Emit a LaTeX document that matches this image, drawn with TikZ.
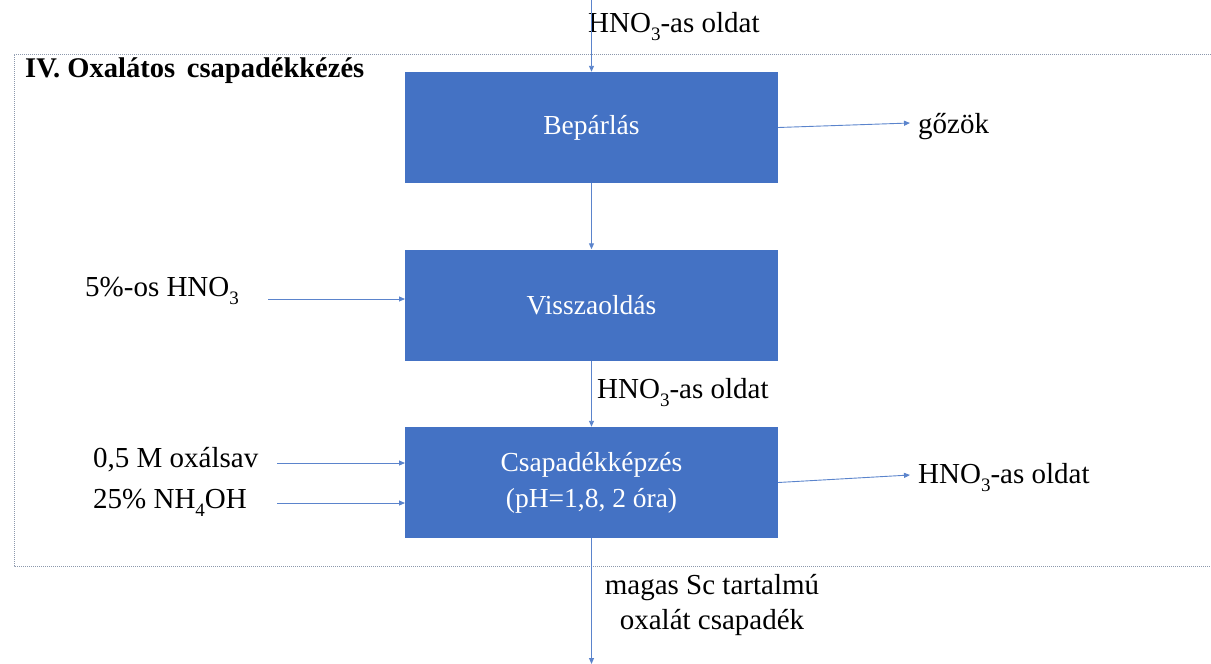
\documentclass[tikz,border=0pt]{standalone}
\usepackage{fontspec}
\setmainfont{Liberation Serif}
\usetikzlibrary{arrows.meta}
\definecolor{boxblue}{HTML}{4472C4}
\definecolor{lineblue}{HTML}{5B84CC}
\definecolor{framegray}{HTML}{8C98AC}
\newcommand{\lowsub}[1]{\raisebox{-0.3em}{\fontsize{19}{19}\selectfont #1}}
\tikzset{
  procbox/.style={fill=boxblue, draw=none, minimum width=373pt, minimum height=111pt, text=white, align=center, font=\fontsize{27.5}{36}\selectfont, inner sep=0pt},
  flow/.style={draw=lineblue, line width=0.9pt, -{Triangle[length=6pt,width=5pt]}},
  lbl/.style={font=\fontsize{29}{34}\selectfont, inner sep=0pt, anchor=base west},
  frame/.style={draw=framegray, line width=0.9pt, dash pattern=on 1pt off 1pt}
}
\begin{document}
\begin{tikzpicture}[x=1pt,y=-1pt]
\useasboundingbox (0,0) rectangle (1211,664);
% frame
\draw[frame] (1211,54) -- (14,54) -- (14,566) -- (1211,566);
\node[font=\fontsize{28.5}{34}\selectfont\bfseries, inner sep=0pt, anchor=base west] (title) at (25,77) {IV. Oxalátos\, csapadékkézés};
% boxes
\node[procbox] (b1) at (591.5,127.5) {Bepárlás};
\node[procbox] (b2) at (591.5,305) {Visszaoldás};
\node[procbox] (b3) at (591.5,482.5) {Csapadékképzés\\(pH=1,8, 2 óra)};
% labels
\node[lbl] (ltop) at (588,32) {HNO\lowsub{3}-as oldat};
\node[lbl] (lmid) at (597,398) {HNO\lowsub{3}-as oldat};
\node[lbl] (lgoz) at (918,133) {gőzök};
\node[lbl] (lout) at (918,483) {HNO\lowsub{3}-as oldat};
\node[lbl] (lhno) at (85,296) {5\%-os HNO\lowsub{3}};
\node[lbl] (lox) at (93,467) {0,5 M oxálsav};
\node[lbl] (lnh) at (93,508) {25\% NH\lowsub{4}OH};
\node[font=\fontsize{29}{35}\selectfont, inner sep=0pt, align=center, anchor=north] (lbot) at (712,574) {magas Sc tartalmú\\oxalát csapadék};
% coordinates
\coordinate (intop) at (591.5,0);
\coordinate (gz) at (910,123);
\coordinate (outr) at (910,475);
\coordinate (hnoS) at (268,299);
\coordinate (hnoE) at (405,299);
\coordinate (oxS) at (277,463);
\coordinate (oxE) at (405,463);
\coordinate (nhS) at (277,503);
\coordinate (nhE) at (405,503);
\coordinate (botE) at (591.5,664);
% connectors
\draw[flow] (intop) -- (b1.north);
\draw[flow] (b1.south) -- (b2.north);
\draw[flow] (b2.south) -- (b3.north);
\draw[flow] (b3.south) -- (botE);
\draw[flow] (b1.east) -- (gz);
\draw[flow] (b3.east) -- (outr);
\draw[flow] (hnoS) -- (hnoE);
\draw[flow] (oxS) -- (oxE);
\draw[flow] (nhS) -- (nhE);
\end{tikzpicture}
\end{document}
